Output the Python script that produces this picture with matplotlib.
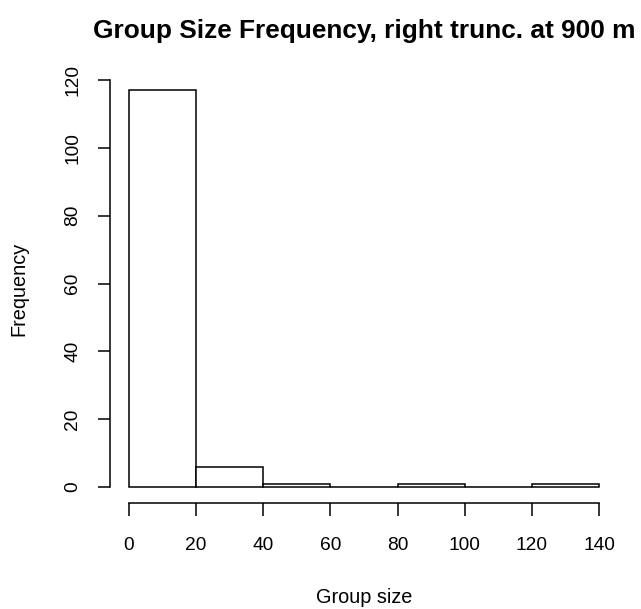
import matplotlib
matplotlib.use("Agg")
import matplotlib.pyplot as plt
import numpy as np

plt.rcParams['font.family'] = ['Liberation Sans', 'DejaVu Sans']

bin_edges = [0, 20, 40, 60, 80, 100, 120, 140]
counts = [117, 6, 1, 0, 1, 0, 1]
x_ticks = [0, 20, 40, 60, 80, 100, 120, 140]
y_ticks = [0, 20, 40, 60, 80, 100, 120]

fig = plt.figure(figsize=(6.41, 6.09), dpi=100)
ax = fig.add_axes([0.1719, 0.1742, 0.7919, 0.7038])

lefts = bin_edges[:-1]
widths = np.diff(bin_edges)
ax.bar(lefts, counts, width=widths, align='edge', facecolor='white',
       edgecolor='black', linewidth=1.1)

ax.set_xlim(-5.6, 145.6)
ax.set_ylim(-4.68, 121.68)

for s in ['top', 'right']:
    ax.spines[s].set_visible(False)
ax.spines['left'].set_bounds(0, 120)
ax.spines['bottom'].set_bounds(0, 140)
ax.spines['left'].set_linewidth(1.1)
ax.spines['bottom'].set_linewidth(1.1)

ax.set_xticks(x_ticks)
ax.set_yticks(y_ticks)
ax.set_xticklabels([str(v) for v in x_ticks])
ax.set_yticklabels([str(v) for v in y_ticks], rotation=90, va='center')
ax.tick_params(axis='both', direction='out', length=9, width=1.1,
               labelsize=13.8)
ax.tick_params(axis='x', pad=15.5)
ax.tick_params(axis='y', pad=12)

ax.set_xlabel('Group size', fontsize=14.3, labelpad=24.5)
ax.set_ylabel('Frequency', fontsize=14.3, labelpad=26)
ax.set_title('Group Size Frequency, right trunc. at 900 m', fontsize=18.9,
             fontweight='bold', pad=26)

fig.savefig('out.png', dpi=100)
